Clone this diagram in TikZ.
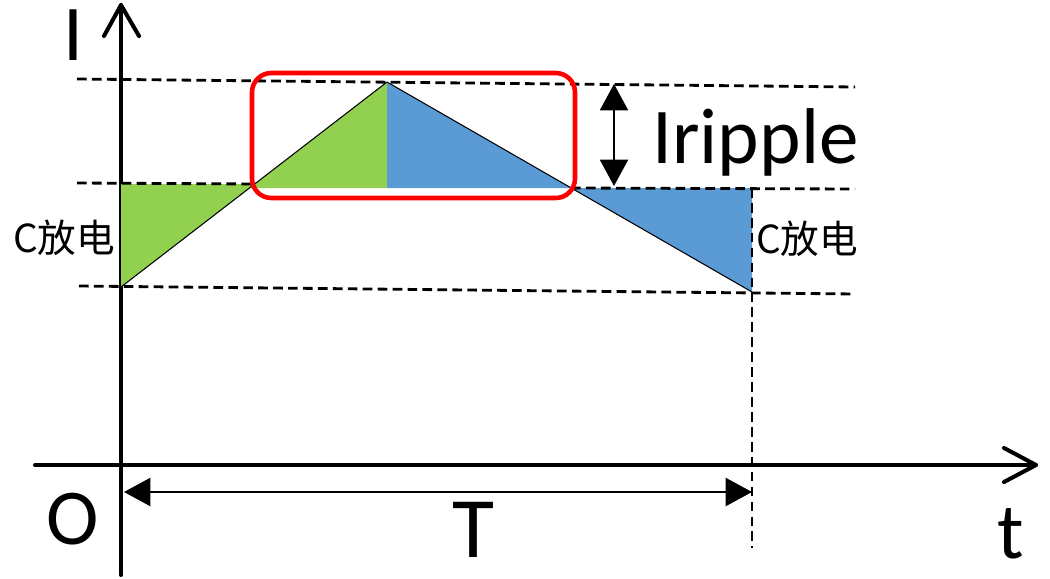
\documentclass[tikz,border=0pt]{standalone}
\usepackage{fontspec}
\setmainfont{Carlito}
\newfontfamily\cjk{Noto Sans CJK SC}
\usetikzlibrary{arrows.meta}
\definecolor{rampgreen}{HTML}{92D050}
\definecolor{rampblue}{HTML}{5B9BD5}

\begin{document}
\begin{tikzpicture}[x=0.02cm,y=-0.02cm,
    axisline/.style={line width=2.3pt,line cap=round,line join=round},
    guide/.style={line width=1.6pt,dash pattern=on 5.5pt off 3pt},
    span/.style={line width=1.1pt,{Triangle[length=15pt,width=16pt]}-{Triangle[length=15pt,width=16pt]}},
    biglabel/.style={inner sep=0pt,font=\fontsize{45}{50}\selectfont},
    cnote/.style={inner sep=0pt,font=\cjk\fontsize{22}{26}\selectfont}]
    \useasboundingbox (0,0) rectangle (1050,578);

    % Points of the current
    \coordinate (O) at (121,465);
    \coordinate (ybot) at (121,575);
    \coordinate (ytop) at (121,5);
    \coordinate (xleft) at (35,465);
    \coordinate (xright) at (1036,465);
    \coordinate (start) at (121,287);
    \coordinate (peak) at (387,82);
    \coordinate (stop) at (752,292);
    \coordinate (peakfoot) at (387,188);
    \coordinate (stopfoot) at (752,188);

    % Axes
    \draw[axisline] (ybot) -- (ytop);
    \draw[axisline] (104,36) -- (ytop) -- (139,36);
    \draw[axisline] (xleft) -- (xright);
    \draw[axisline] (1004,448) -- (xright) -- (1004,482);

    % Charge areas
    \fill[rampgreen] (121,184) -- (254.6,184) -- (start) -- cycle;
    \fill[rampgreen] (249.4,188) -- (peak) -- (peakfoot) -- cycle;
    \fill[rampblue] (peak) -- (peakfoot) -- (571,188) -- cycle;
    \fill[rampblue] (571,188) -- (stopfoot) -- (stop) -- cycle;
    \draw[line width=0.6pt] (start) -- (peak) -- (stop);

    % Guide lines
    \draw[guide] (77,79) -- (855,87);
    \draw[guide] (77,183) -- (254,184);
    \draw[guide] (571,188) -- (855,189);
    \draw[guide] (79,286) -- (855,294);
    \draw[guide] (stopfoot) -- (752,548);

    % Ripple box
    \draw[red,line width=2.6pt,rounded corners=11pt] (252,73) rectangle (575,198);

    % Arrows
    \coordinate (rtop) at (614,84);
    \coordinate (rbot) at (614,186);
    \draw[span] (rtop) -- (rbot);
    \coordinate (tleft) at (124,492);
    \coordinate (tright) at (752,492);
    \draw[span] (tleft) -- (tright);

    % Labels
    \node[biglabel] (ilabel) at (73,35) {I};
    \node[biglabel] (olabel) at (73,519) {O};
    \node[biglabel,anchor=base] (tlabel) at (1011,558) {t};
    \node[biglabel,font=\fontsize{49}{54}\selectfont] (plabel) at (473,530) {T};
    \node[biglabel,anchor=base west] (ripple) at (652,163) {Iripple};
    \node[cnote] (cleft) at (64,238) {C放电};
    \node[cnote] (cright) at (807,239) {C放电};
\end{tikzpicture}
\end{document}
